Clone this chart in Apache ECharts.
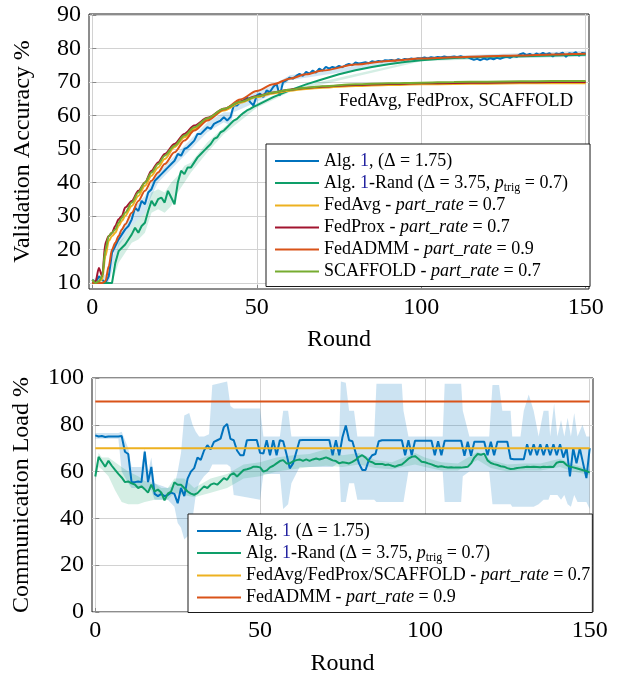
<!DOCTYPE html>
<html><head><meta charset="utf-8">
<script src="https://cdn.jsdelivr.net/npm/echarts@6/dist/echarts.min.js"></script>
<style>html,body{margin:0;padding:0;background:#fff}#c{width:618px;height:679px}</style>
</head><body><div id="c"></div>
<script>
// ---------- DATA ----------
const rounds = Array.from({length: 151}, (_, i) => i);
const xTicks = [0, 50, 100, 150];
const accTicks = [10, 20, 30, 40, 50, 60, 70, 80, 90];
const commTicks = [0, 20, 40, 60, 80, 100];

// Top: validation accuracy
const accAlg1 = [
 11,10,12,11,10,12,19,21,23,24.5,
 26,27,29,32.5,31.5,34.5,33.5,37,38,40.5,
 41.5,42.5,43.5,44.5,45.5,46.5,48.5,48,50,50.5,
 51.5,52.5,54.5,54.5,55.5,56.5,56,57.5,58,58.5,
 59.5,58.5,59.5,63,63,64,64.5,65.5,64,63,
 66,66.5,65.5,67.5,67,68.5,69.5,66,70,70.5,
 71.3,71,71.8,72.4,71.8,73,72.5,73.4,72.8,74,
 73.4,74.5,74,74.5,74.2,74.8,74.4,75,75.4,75,
 75.8,75.5,75.7,75.9,75.6,76.2,76,76.3,76.1,76.5,
 76.4,76.6,76.3,76.8,76.5,76.9,76.7,77,76.8,77.1,
 77,77.3,77,77.4,77.2,77.5,77.3,77.6,77.4,77.5,
 77.6,77.4,77.7,77.3,77.5,77,76.6,76.9,76.5,77,
 76.7,77.1,76.8,77.2,76.9,77.3,77.5,77.2,77.8,77.5,
 78.3,78.6,78,78.4,77.8,78.5,78.1,78.7,78.2,78.6,
 77.6,78.5,78.3,78.8,77.5,78.6,78.4,78.9,77.8,78.7,78.5];
const accAlg1BandRounds = [0,5,8,12,14,16,18,20,25,30,35,40,42,43,50,55,60,100,150];
const accAlg1BandLo = [10,10,21,27,29,31,36,40,45,50,55,58,57,61,64,66.5,70.5,76.6,77.5];
const accAlg1BandHi = [11,13,25,31,34,36,40,43,48,53,58,61,61,64,67,69,72,77.5,79.3];

const accRandRounds = [0,1,2,3,4,5,6,7,8,9,10,11,12,13,14,15,16,17,18,19,20,21,22,23,24,25,26,27,28,29,30,
 31,32,33,34,35,36,37,38,39,40,41,42,43,44,45,46,47,48,49,50,55,60,65,70,75,80,85,90,95,100,105,110,115,120,130,140,150];
const accRand = [10,10,10,10,10,10,10,16,19.5,20.5,21.5,23,24.5,26.5,25,27,28,31.5,34.5,33,35,35.5,34,37.5,35.5,33.5,40,43.5,42.5,44.5,44.5,
 46,47.5,48.5,49.5,50.5,51.5,53,53.5,55,55.5,56.5,57.5,58.5,59,60,60.8,61.5,62,62.6,63,65.5,67.5,69.3,70.8,72.3,73.5,74.5,75.3,76,76.5,76.9,77.2,77.4,77.5,77.7,77.9,78.1];
const accRandBandRounds = [6,8,10,12,14,16,18,20,22,24,26,28,30,35,40,50,60,100,150];
const accRandBandLo = [10,16,19,22,23,25,31,32,31,33,37,40,43,49,54.5,62.3,67,76.2,77.8];
const accRandBandHi = [12,22,24,27,29,31,37,38,37,40,42,45,46,52,56.5,63.7,68,76.8,78.4];

const smoothRounds = [0,1,2,3,4,5,6,7,8,9,10,12,14,16,18,20,22,25,28,31,35,40,45,50,55,60,65,70,80,90,100,110,120,130,140,150];
const accFedAvg   = [10,10,10.5,11,18,22.5,24,25,27,28.5,30,33,36,39,42,44.5,47,50.5,53.5,56,58.8,61.5,63.8,65.5,66.6,67.4,67.9,68.3,68.8,69.1,69.3,69.4,69.5,69.6,69.6,69.6];
const accFedProx  = [10,10.5,14.5,12,22,24,25,27,29,30,32.5,34.5,37.5,40,43.5,46,48.5,51.5,54.5,57,59.3,62,64.2,65.8,66.9,67.7,68.2,68.6,69.1,69.4,69.6,69.7,69.8,69.9,70,70];
const accFedADMM  = [10,10,10,10,10.5,15,20,22,24,26,27.5,31,34.5,37.5,40.5,43,45.5,49,52.5,55.5,58.5,61.8,64.8,67.3,69.3,71,72.3,73.4,75.2,76.3,77,77.4,77.7,77.9,78.2,78.4];
const accScaffold = [11,10,10.5,12,20,24,25,26,28,29.5,31,34,37,40,43,45.5,48,51,54,56.5,59.2,62,64.1,65.7,66.9,67.7,68.3,68.7,69.3,69.6,69.8,70,70.1,70.2,70.3,70.3];

// Bottom: communication load
const commAlg1 = [
 75.5,75,75.2,74.8,75,75,75,75,75.2,68.5,
 67.5,55.5,55.5,55.8,55.5,68.5,55.5,62,50.5,49.5,
 50.5,49.5,50,51,50.5,46.5,53,49.5,57,60,
 61.5,66,65,69,71.3,69.5,72.7,73.4,74.1,79,
 80.4,74,73.4,69,67,67,73.4,73.5,73.5,73.5,
 68,67.7,73.4,67,73.4,67,73.4,73,67.5,61.4,
 63.5,68.5,73.4,73.5,73.5,73.5,73.5,73.5,73.5,73.5,
 73.5,73.5,67,73.4,67,74.8,79.7,73.4,73,68,
 63.5,60.7,60.7,65,67,67.5,73,73.4,73.4,73.4,
 73.4,73.4,73.4,73.4,67,73.4,67,73.2,73.2,73.2,
 73.2,73.2,73.2,67,73,67,73.2,73.2,73.2,73.2,
 73.2,73.2,66.8,72.8,66.8,72.8,72.8,72.8,72.8,67,
 72.8,67,72.8,72.8,72.8,72.8,65.5,65.3,65.3,65.3,
 65.3,71.7,67,71.7,67,71.7,67,71.7,67,71.7,
 67,71.7,66,70,58,70,63.5,70,63.5,57.2,70];
const commAlg1BandRounds = [0,7,8,10,11,14,15,16,17,18,22,24,25,26,27,28.5,29.5,30.5,31.5,33,34.5,35.5,40,41,42,50,51,56,57,58.5,59.5,62,72,74,74.5,76,77,78.5,79.5,84.6,85.3,93,93.5,95,105.4,106,111,111.5,113.5,119.5,120.5,122.5,123.5,126,126.5,129,130,131.5,133,134.5,136,137.5,138,139.2,140.2,141.3,142.3,143.3,144.3,145.3,146.3,147.8,149,150];
const commAlg1BandLo = [74,74,60,55,53,53,53,52,52,48,48,45,38,36,31,33,40,50,55,58,60,63,63,62,50,48,59,59,44,46,55,62,62,64,47,47,55,55,48,48,47,47,47,60,60,47,47,58,60,60,46,46,46,46,45,45,45,45,45,46,48,48,50,50,50,48,50,46,45,50,47,47,47,44];
const commAlg1BandHi = [76.5,76.5,77,70,62,62,70,60,66,55,53,54,60,68,84,85,80,77,75,75,76,97,98.5,88,87,87,75,75,86,86,75,75,75,75,98.5,98,86,86,75,75,97.5,97.5,86,75,75,97.5,97.5,86,75,75,97,97,86,86,75,75,86,93,86,75,86,86,75,89,75,82,75,83,75,85,75,80,75,75];

const commRand = [
 57.9,66.3,64.2,62.1,64.6,62.5,60.7,59,57.5,55.5,
 55.8,55,54.5,53,53.7,52.5,51,54.4,51.5,52.3,
 51.1,47.7,50.6,51.5,55.4,54.4,54.4,53,51.5,50.6,
 50.1,50.8,52.3,53.7,53,54.4,55,54.4,55.8,57.2,
 56.5,58.6,59.3,57.9,59.3,60.7,61,61.4,62.1,62.1,
 61.8,60,60.5,61.8,62.5,63.5,64.5,64.9,63.5,63.5,
 64.4,64.9,65.2,64.6,65.2,64.6,65.2,65.6,65.2,65.6,
 66.1,65.5,64.8,64.5,63.5,64,63.8,63.5,64.2,65,
 66.3,67,66,64.5,64,63.2,63.2,63.3,62.8,63,
 62.5,62.1,62.7,63,64.2,65.5,66.3,66.6,65.5,64.2,
 64,63.5,63.1,62.5,62.1,62.3,62,61.8,61.9,61.7,
 61.8,61.7,61.9,62.1,63.5,66,67.5,67.2,67.7,64.8,
 63.7,63.2,62.8,62.3,62.1,61.5,61.1,61.2,61.5,61.7,
 61.9,62.1,62,62.1,62,61.9,62.1,62,62.1,62,
 63.8,64.2,64.1,62.8,62.1,61.8,61.4,61,60.6,60.3,59.6];
const commRandBandRounds = [0,1,2,4,6,8,10,13,15,18,20,22,24,27,30,35,40,45,50,55,60,65,70,75,80,85,90,97,100,105,110,116,120,125,130,135,141,145,150];
const commRandBandLo = [56,62,61,58,52,47,46,46,47,48,48,48,51,50,49,51,53,57,58,60,61,62,62.5,62,63,61.5,61,63,62,60.5,60.5,65,61.5,60,60.5,60.5,62,60,58.5];
const commRandBandHi = [60,68,66,66,64,62,60,58,56,55,53,53,57,57,53,57,59,63,64,66,67,67.5,69.5,67,68,65,64,68,66,64,63.5,68.5,65,63,63.5,63.5,65.5,63,61];

const commConstRounds = [0, 150];
const commFedAvg = [70, 70];
const commFedADMM = [90, 90];

// ---------- NAMES / COLORS ----------
const N = {
  a1: 'Alg. 1, (Δ = 1.75)',
  rand: 'Alg. 1-Rand (Δ = 3.75, p_trig = 0.7)',
  avg: 'FedAvg - part_rate = 0.7',
  prox: 'FedProx - part_rate = 0.7',
  admm: 'FedADMM - part_rate = 0.9',
  scaf: 'SCAFFOLD - part_rate = 0.7',
  a1b: 'Alg. 1 (Δ = 1.75)',
  avgb: 'FedAvg/FedProx/SCAFFOLD - part_rate = 0.7'
};
const C = {
  blue: '#0072BD', green: '#0E9E69', yellow: '#EDB120', red: '#A2142F', orange: '#D95319', lime: '#77AC30'
};
const RICH = {};
RICH[N.a1] = '{t|Alg. }{l|1}{t|, (Δ = 1.75)}';
RICH[N.a1b] = '{t|Alg. }{l|1}{t| (Δ = 1.75)}';
RICH[N.rand] = '{t|Alg. }{l|1}{t|-Rand (Δ = 3.75, }{i|p}{s|trig}{t| = 0.7)}';
RICH[N.avg] = '{t|FedAvg - }{i|part_rate}{t| = 0.7}';
RICH[N.prox] = '{t|FedProx - }{i|part_rate}{t| = 0.7}';
RICH[N.admm] = '{t|FedADMM - }{i|part_rate}{t| = 0.9}';
RICH[N.scaf] = '{t|SCAFFOLD - }{i|part_rate}{t| = 0.7}';
RICH[N.avgb] = '{t|FedAvg/FedProx/SCAFFOLD - }{i|part_rate}{t| = 0.7}';

const FONT = 'Liberation Serif';
const zip = (xs, ys) => xs.map((x, i) => [x, ys[i]]);

function lineSeries(name, xi, xs, ys, color, z, smooth) {
  return {
    type: 'line', name, xAxisIndex: xi, yAxisIndex: xi, data: zip(xs, ys),
    symbol: 'none', smooth: smooth ? 0.3 : false, smoothMonotone: smooth ? 'x' : undefined,
    lineStyle: { color, width: 2 }, itemStyle: { color }, z, clip: true, animation: false
  };
}
function bandSeries(xi, xs, lo, hi, fill, z) {
  return {
    type: 'custom', xAxisIndex: xi, yAxisIndex: xi, silent: true, z, animation: false,
    data: [[xs[0], lo[0]]],
    renderItem: function (params, api) {
      const pts = [];
      for (let i = 0; i < xs.length; i++) pts.push(api.coord([xs[i], hi[i]]));
      for (let i = xs.length - 1; i >= 0; i--) pts.push(api.coord([xs[i], lo[i]]));
      return { type: 'polygon', shape: { points: pts }, style: { fill: fill, stroke: null } };
    }
  };
}

const richStyles = {
  t: { fontFamily: FONT, fontSize: 18, color: '#000' },
  l: { fontFamily: FONT, fontSize: 18, color: '#2323a0' },
  i: { fontFamily: FONT, fontSize: 18, fontStyle: 'italic', color: '#000' },
  s: { fontFamily: FONT, fontSize: 12, color: '#000', padding: [9, 0, 0, 0] }
};

function xAxisCfg(gi, nameGap) {
  return {
    type: 'value', gridIndex: gi, min: -1, max: 151,
    name: 'Round', nameLocation: 'middle', nameGap,
    nameTextStyle: { fontFamily: FONT, fontSize: 24, color: '#000' },
    axisLine: { show: false },
    axisTick: { show: true, inside: true, length: 4, lineStyle: { color: '#888' }, customValues: xTicks },
    axisLabel: { fontFamily: FONT, fontSize: 24, color: '#000', margin: 7, customValues: xTicks },
    splitLine: { show: true, lineStyle: { color: '#d2d2d2', width: 1 } }
  };
}
function yAxisCfg(gi, name, min, max, ticks, nameGap) {
  return {
    type: 'value', gridIndex: gi, min, max,
    name, nameLocation: 'middle', nameGap, nameRotate: 90,
    nameTextStyle: { fontFamily: FONT, fontSize: 24, color: '#000' },
    axisLine: { show: false },
    axisTick: { show: true, inside: true, length: 4, lineStyle: { color: '#888' }, customValues: ticks },
    axisLabel: { fontFamily: FONT, fontSize: 24, color: '#000', margin: 8, customValues: ticks },
    splitLine: { show: true, lineStyle: { color: '#d2d2d2', width: 1 } }
  };
}

const chart = echarts.init(document.getElementById('c'), null, { renderer: 'canvas' });
chart.setOption({
  backgroundColor: '#fff',
  animation: false,
  grid: [
    { left: 89, top: 14, width: 500, height: 275, show: true, borderColor: '#1a1a1a', borderWidth: 1, backgroundColor: 'transparent' },
    { left: 92, top: 378, width: 501, height: 234, show: true, borderColor: '#1a1a1a', borderWidth: 1, backgroundColor: 'transparent' }
  ],
  xAxis: [xAxisCfg(0, 39), xAxisCfg(1, 40)],
  yAxis: [
    yAxisCfg(0, 'Validation Accuracy %', 8.2, 90.3, accTicks, 54),
    yAxisCfg(1, 'Communication Load %', 0, 100, commTicks, 58)
  ],
  legend: [
    {
      data: [N.a1, N.rand, N.avg, N.prox, N.admm, N.scaf],
      orient: 'vertical', left: 266, top: 144,
      padding: [7, 22, 5, 9], itemGap: 2, itemWidth: 44, itemHeight: 12,
      borderColor: '#1a1a1a', borderWidth: 1, backgroundColor: '#fff', borderRadius: 0,
      selectedMode: false, icon: 'path://M0,5 L44,5 L44,7 L0,7 Z',
      textStyle: { fontFamily: FONT, fontSize: 18, color: '#000', lineHeight: 20, rich: richStyles },
      formatter: name => RICH[name] || name
    },
    {
      data: [N.a1b, N.rand, N.avgb, N.admm],
      orient: 'vertical', left: 188, top: 514,
      padding: [7, 2, 5, 9], itemGap: 2, itemWidth: 44, itemHeight: 12,
      borderColor: '#1a1a1a', borderWidth: 1, backgroundColor: '#fff', borderRadius: 0,
      selectedMode: false, icon: 'path://M0,5 L44,5 L44,7 L0,7 Z',
      textStyle: { fontFamily: FONT, fontSize: 18, color: '#000', lineHeight: 20, rich: richStyles },
      formatter: name => RICH[name] || name
    }
  ],
  graphic: [
    { type: 'text', left: 339, top: 92, z: 100,
      style: { text: 'FedAvg, FedProx, SCAFFOLD', fontFamily: FONT, fontSize: 18.5, fill: '#000' } }
  ],
  series: [
    bandSeries(0, accAlg1BandRounds, accAlg1BandLo, accAlg1BandHi, 'rgba(0,114,189,0.18)', 1),
    bandSeries(0, accRandBandRounds, accRandBandLo, accRandBandHi, 'rgba(14,158,105,0.18)', 1),
    lineSeries(N.a1, 0, rounds, accAlg1, C.blue, 3, false),
    lineSeries(N.rand, 0, accRandRounds, accRand, C.green, 4, false),
    lineSeries(N.avg, 0, smoothRounds, accFedAvg, C.yellow, 5, true),
    lineSeries(N.prox, 0, smoothRounds, accFedProx, C.red, 6, true),
    lineSeries(N.admm, 0, smoothRounds, accFedADMM, C.orange, 7, true),
    lineSeries(N.scaf, 0, smoothRounds, accScaffold, C.lime, 8, true),

    bandSeries(1, commAlg1BandRounds, commAlg1BandLo, commAlg1BandHi, 'rgba(0,114,189,0.2)', 1),
    lineSeries(N.a1b, 1, rounds, commAlg1, C.blue, 3, false),
    bandSeries(1, commRandBandRounds, commRandBandLo, commRandBandHi, 'rgba(14,158,105,0.18)', 2),
    lineSeries(N.rand + ' ', 1, rounds, commRand, C.green, 4, false),
    lineSeries(N.avgb, 1, commConstRounds, commFedAvg, C.yellow, 5, false),
    lineSeries(N.admm + ' ', 1, commConstRounds, commFedADMM, C.orange, 6, false)
  ]
});
</script>
</body></html>
